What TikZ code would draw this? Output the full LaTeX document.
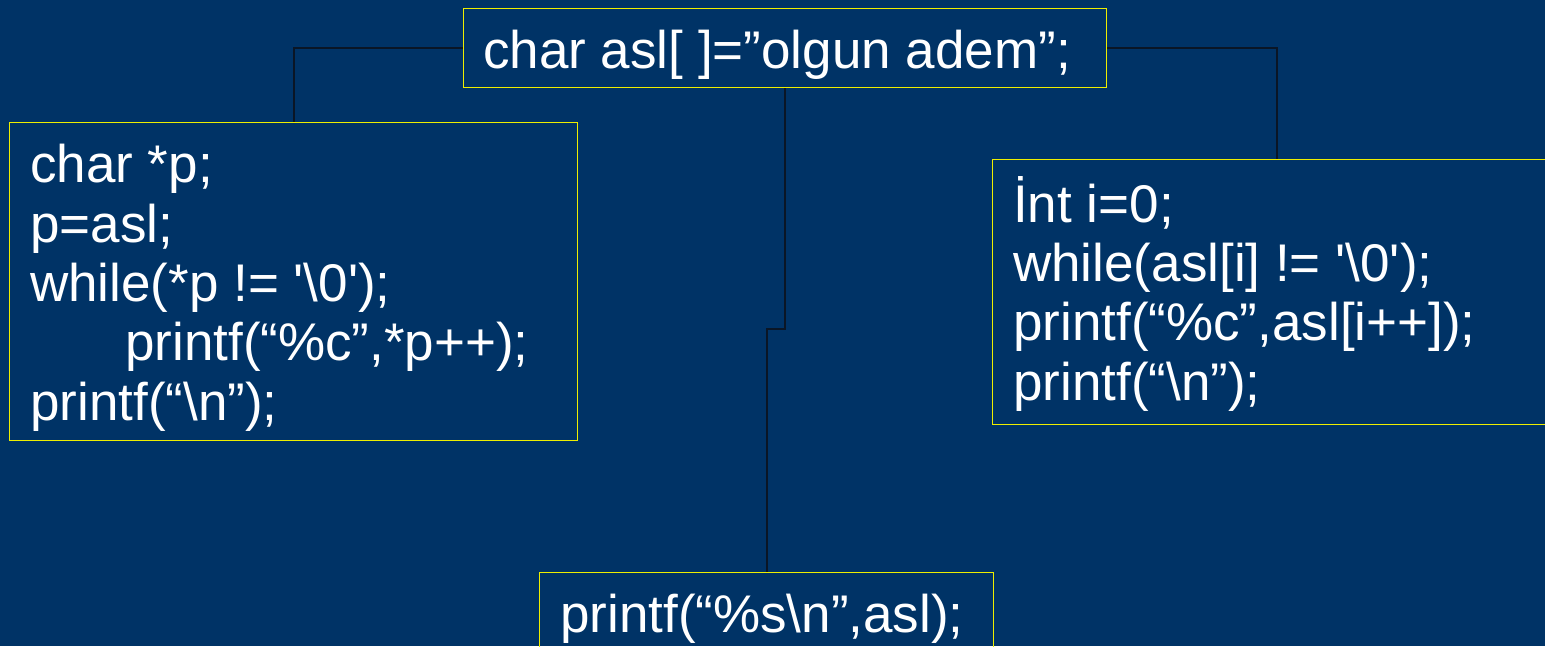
\documentclass[tikz,border=0pt]{standalone}
\usepackage{fontspec}
\setmainfont{Liberation Sans}
\definecolor{bg}{HTML}{003366}
\definecolor{frame}{HTML}{EEEE00}
\definecolor{wire}{HTML}{0A1626}
\tikzset{
  box/.style={draw=frame, line width=1.2pt, inner sep=0pt, anchor=north west},
  code/.style={text=white, font=\fontsize{53}{59.3}\selectfont, align=left, inner sep=0pt, anchor=base west},
  wireline/.style={draw=wire, line width=2pt},
}
\begin{document}
\begin{tikzpicture}[x=1pt,y=-1pt]
\useasboundingbox (0,0) rectangle (1545,646);
\fill[bg] (0,0) rectangle (1545,646);
% boxes
\node[box, minimum width=643pt, minimum height=79pt] (top) at (463,8) {};
\node[box, minimum width=568pt, minimum height=318pt] (left) at (9,122) {};
\node[box, minimum width=568pt, minimum height=265pt] (right) at (992,159) {};
\node[box, minimum width=454pt, minimum height=90pt] (bot) at (539,572) {};
% connectors
\coordinate (elbow) at (784.5,329);
\draw[wireline] (top.west) -| (left.north);
\draw[wireline] (top.east) -| (right.north);
\draw[wireline] (top.south) -- (top.south |- elbow) -| (bot.north);
% texts (anchored at the baseline of the last line)
\node[code] (toptext) at (483,68) {char asl[ ]=”olgun adem”;};
\node[code] (lefttext) at (30,420) {char *p;\\ p=asl;\\ while(*p != \textquotesingle\textbackslash0\textquotesingle);\\ \hspace*{95pt}printf(“\%c”,*p++);\\ printf(“\textbackslash n”);};
\node[code] (righttext) at (1013,400) {İnt i=0;\\ while(asl[i] != \textquotesingle\textbackslash0\textquotesingle);\\ printf(“\%c”,asl[i++]);\\ printf(“\textbackslash n”);};
\node[code] (bottext) at (560,632) {printf(“\%s\textbackslash n”,asl);};
\end{tikzpicture}
\end{document}
